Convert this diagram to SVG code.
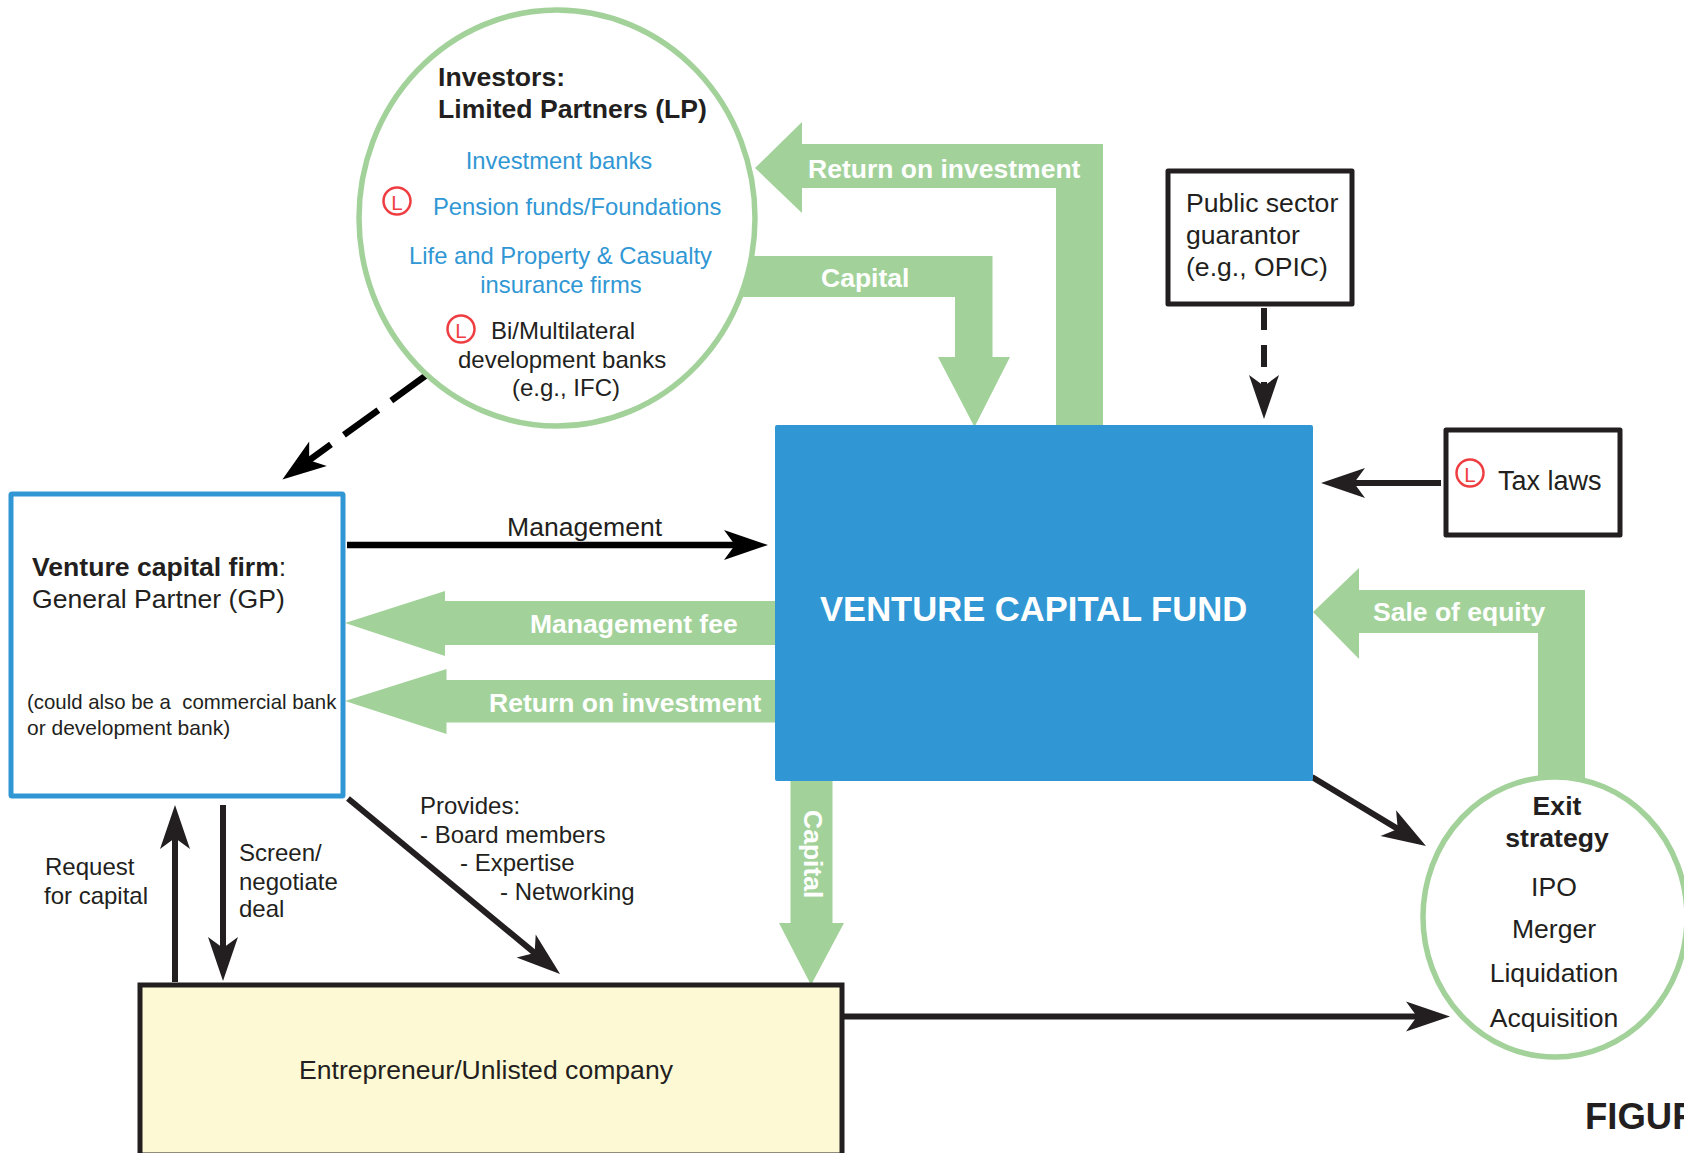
<svg xmlns="http://www.w3.org/2000/svg" width="1684" height="1153" viewBox="0 0 1684 1153">
<style>
text{font-family:"Liberation Sans",Arial,sans-serif;fill:#231f20}
.s25{font-size:26.6px}.s24{font-size:24px}.s21{font-size:20.4px;white-space:pre}
.b{font-weight:bold}
.w{fill:#fff;font-weight:bold;font-size:26.5px}
.bl{fill:#3097d4;font-size:23.8px}
.m{text-anchor:middle}
.flow{fill:#a2d29a}
.line{fill:none;stroke:#231f20;stroke-width:6;marker-end:url(#head)}
.blk{stroke:#000;stroke-width:6.500;marker-end:url(#headk)}
.oval{fill:#fff;stroke:#a2d29a;stroke-width:5.500}
.box{fill:#fff;stroke:#231f20;stroke-width:5;stroke-linejoin:round}
.lc{fill:none;stroke:#ef3e42;stroke-width:2.500}
.lt{fill:#ef3e42;font-size:20.500px;text-anchor:middle}
</style>
<defs>
<marker id="head" markerUnits="userSpaceOnUse" markerWidth="46" markerHeight="32" refX="12" refY="15" orient="auto" overflow="visible">
<path d="M0,0 L44,15 L0,30 L11,15 Z" fill="#231f20"/>
</marker>
<marker id="headk" markerUnits="userSpaceOnUse" markerWidth="46" markerHeight="32" refX="12" refY="15" orient="auto" overflow="visible">
<path d="M0,0 L44,15 L0,30 L11,15 Z" fill="#000"/>
</marker>
</defs>
<rect width="1684" height="1153" fill="#fff"/>
<g id="connectors">
<polygon class="flow" points="755,168 802,122 802,144 1103,144 1103,426 1056,426 1056,188 802,188 802,213"/>
<polygon class="flow" points="730,256 992.5,256 992.5,357 1010,357 974.500,427 938,357 955,357 955,297 730,297"/>
<polygon class="flow" points="345,623 445,591 445,601 776,601 776,645 445,645 445,656"/>
<polygon class="flow" points="345,701 446.500,669 446.500,680 776,680 776,722.500 446.500,722.500 446.500,734"/>
<polygon class="flow" points="1313,612 1359,568 1359,590 1585,590 1585,790 1538,790 1538,633 1359,633 1359,659"/>
<polygon class="flow" points="790.500,780 832.500,780 832.500,923 844,923 811,985 779,923 790.500,923"/>
<line class="line blk" x1="347" y1="545" x2="736" y2="545"/>
<line class="line" x1="1441" y1="483" x2="1353" y2="483"/>
<line class="line" x1="175" y1="982" x2="175" y2="837"/>
<line class="line" x1="223" y1="805" x2="223" y2="949"/>
<line class="line" x1="348" y1="798.500" x2="535.400" y2="953.600"/>
<line class="line" x1="1312" y1="777" x2="1398.600" y2="829.400"/>
<line class="line" x1="842" y1="1016.500" x2="1418" y2="1016.500"/>
<line class="line" stroke-dasharray="22 15" x1="1264" y1="308" x2="1264" y2="387"/>
<line class="line blk" stroke-dasharray="42.500 16" x1="425.700" y1="375.700" x2="308.300" y2="460.800"/>
</g>
<g id="flow-labels">
<text class="w" x="808" y="178">Return on investment</text>
<text class="w" x="821" y="287">Capital</text>
<text class="w" x="530" y="633">Management fee</text>
<text class="w" x="489" y="712">Return on investment</text>
<text class="w" x="1373" y="621">Sale of equity</text>
<text class="w" transform="translate(804,810) rotate(90)">Capital</text>
<text class="s25" x="507" y="536">Management</text>
<text class="s24" x="45" y="875">Request</text>
<text class="s24" x="44" y="904">for capital</text>
<text class="s24" x="239" y="861">Screen/</text>
<text class="s24" x="239" y="890">negotiate</text>
<text class="s24" x="239" y="917">deal</text>
<text class="s24" x="420" y="814">Provides:</text>
<text class="s24" x="420" y="843">- Board members</text>
<text class="s24" x="460" y="871">- Expertise</text>
<text class="s24" x="500" y="900">- Networking</text>
</g>
<g id="investors">
<ellipse class="oval" cx="557" cy="218" rx="198" ry="208"/>
<text class="b" font-size="26.600" x="438" y="86">Investors:</text>
<text class="b" font-size="26.600" x="438" y="118">Limited Partners (LP)</text>
<text class="bl m" x="559" y="169">Investment banks</text>
<circle class="lc" cx="397" cy="201" r="13.500"/><text class="lt" x="397" y="209.500">L</text>
<text class="bl" x="433" y="215">Pension funds/Foundations</text>
<text class="bl m" x="560.500" y="264">Life and Property &amp; Casualty</text>
<text class="bl m" x="561" y="293">insurance firms</text>
<circle class="lc" cx="461" cy="329" r="13.500"/><text class="lt" x="461" y="337.500">L</text>
<text class="s24" x="491" y="339">Bi/Multilateral</text>
<text class="s24" x="458" y="368">development banks</text>
<text class="s24" x="512" y="396">(e.g., IFC)</text>
</g>
<g id="public-sector">
<rect class="box" x="1168" y="171" width="184" height="133"/>
<text class="s25" x="1186" y="212">Public sector</text>
<text class="s25" x="1186" y="244">guarantor</text>
<text class="s25" x="1186" y="276">(e.g., OPIC)</text>
</g>
<g id="tax-laws">
<rect class="box" x="1446" y="430" width="174" height="105"/>
<circle class="lc" cx="1470" cy="473" r="13.500"/><text class="lt" x="1470" y="481.500">L</text>
<text class="s25" style="font-size:27px" x="1498" y="490">Tax laws</text>
</g>
<g id="fund">
<rect x="775" y="425" width="538" height="356" rx="2" fill="#3097d4"/>
<text class="b" style="fill:#fff" font-size="34.600" x="820" y="621">VENTURE CAPITAL FUND</text>
</g>
<g id="gp">
<rect x="11" y="494" width="332" height="302" rx="1" fill="#fff" stroke="#3097d4" stroke-width="5"/>
<text class="s25" x="32" y="576"><tspan class="b">Venture capital firm</tspan>:</text>
<text class="s25" x="32" y="608">General Partner (GP)</text>
<text class="s21" x="27" y="709">(could also be a  commercial bank</text>
<text class="s21" style="font-size:21px" x="27" y="735">or development bank)</text>
</g>
<g id="entrepreneur">
<rect x="140" y="985" width="702" height="170" fill="#fef9d5" stroke="#231f20" stroke-width="5"/>
<text class="s25" x="299" y="1079">Entrepreneur/Unlisted company</text>
</g>
<g id="exit">
<ellipse class="oval" cx="1555" cy="917" rx="132" ry="140"/>
<text class="b s25 m" x="1557" y="815">Exit</text>
<text class="b s25 m" x="1557" y="847">strategy</text>
<text class="s25 m" x="1554" y="896">IPO</text>
<text class="s25 m" x="1554" y="938">Merger</text>
<text class="s25 m" x="1554" y="982">Liquidation</text>
<text class="s25 m" x="1554" y="1027">Acquisition</text>
</g>
<text class="b" font-size="36.500" x="1585" y="1129">FIGUR</text>
</svg>
